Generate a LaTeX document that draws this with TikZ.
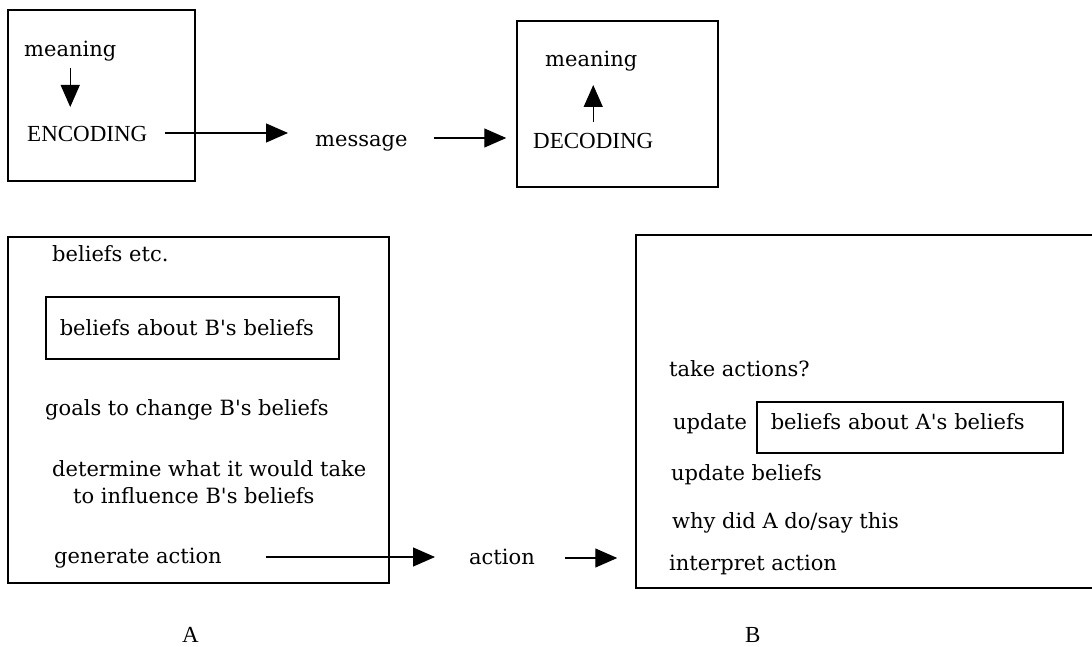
\documentclass[tikz,border=0pt]{standalone}
\usepackage{fontspec}
\setmainfont{DejaVu Serif}
\newfontfamily\capsfont{Liberation Serif}
\usetikzlibrary{positioning,arrows.meta}

\begin{document}
\begin{tikzpicture}[x=1pt,y=-1pt,
  font=\fontsize{21}{27}\selectfont,
  lbl/.style={anchor=base west,inner sep=0pt,align=left},
  caps/.style={lbl,font=\capsfont\fontsize{23}{27}\selectfont},
  frame/.style={draw,line width=1.5pt,inner sep=0pt},
  inbox/.style={frame,anchor=north west,inner xsep=14pt,align=left},
  arr/.style={line width=1.3pt,-{Triangle[length=22pt,width=19pt]}}]
\useasboundingbox (0,0) rectangle (1092,647);
% encoding side
\node[frame,minimum width=187pt,minimum height=171pt] (encbox) at (101.5,95.5) {};
\node[lbl] (mean1) at (24,57) {meaning};
\node[caps] (enc) at (27,142) {ENCODING};
\node[lbl] (msg) at (315,147) {message};
% decoding side
\node[frame,minimum width=201pt,minimum height=166pt] (decbox) at (617.5,104) {};
\node[lbl] (mean2) at (545,67) {meaning};
\node[caps] (dec) at (533,149) {DECODING};
\draw[arr,shorten <=11pt,shorten >=35pt] (mean1.base) -- (mean1.base |- enc.base);
\draw[arr,shorten <=27pt,shorten >=18pt] (dec.base) -- (dec.base |- mean2.base);
\draw[arr,shorten <=17pt,shorten >=27pt] ([yshift=9pt]enc.base east) -- ([yshift=9pt]enc.base east -| msg.base west);
\draw[arr,shorten <=26pt,shorten >=10pt] ([yshift=9pt]msg.base east) -- ([yshift=9pt]msg.base east -| decbox.west);
% agent A
\node[frame,minimum width=381pt,minimum height=346pt] (boxA) at (198.5,410) {};
\node[lbl] (etc) at (52,261) {beliefs etc.};
\node[inbox,minimum width=293pt,minimum height=62pt,text width=265pt] (aboutB) at (45,296) {beliefs about B\textquotesingle s beliefs};
\node[lbl] (goals) at (45,415) {goals to change B\textquotesingle s beliefs};
\node[lbl] (det) at (52,503) {determine what it would take\\\hspace*{21pt}to influence B\textquotesingle s beliefs};
\node[lbl] (gen) at (54,563) {generate action};
\node[lbl] (act) at (469,564) {action};
% agent B
\node[frame,minimum width=460pt,minimum height=353pt] (boxB) at (866,411.5) {};
\node[lbl] (take) at (669,376) {take actions?};
\node[lbl] (upd) at (673,429) {update};
\node[inbox,minimum width=306pt,minimum height=51pt,text width=278pt,text depth=11pt] (aboutA) at (756,401) {beliefs about A\textquotesingle s beliefs};
\node[lbl] (updb) at (671,480) {update beliefs};
\node[lbl] (why) at (672,528) {why did A do/say this};
\node[lbl] (interp) at (669,570) {interpret action};
\draw[arr,shorten <=44pt,shorten >=34pt] ([yshift=6pt]gen.base east) -- ([yshift=6pt]gen.base east -| act.base west);
\draw[arr,shorten <=30pt,shorten >=18pt] ([yshift=6pt]act.base east) -- ([yshift=6pt]act.base east -| boxB.west);
\node[caps] (labA) at (182,642) {A};
\node[caps] (labB) at (745,642) {B};
\end{tikzpicture}
\end{document}
